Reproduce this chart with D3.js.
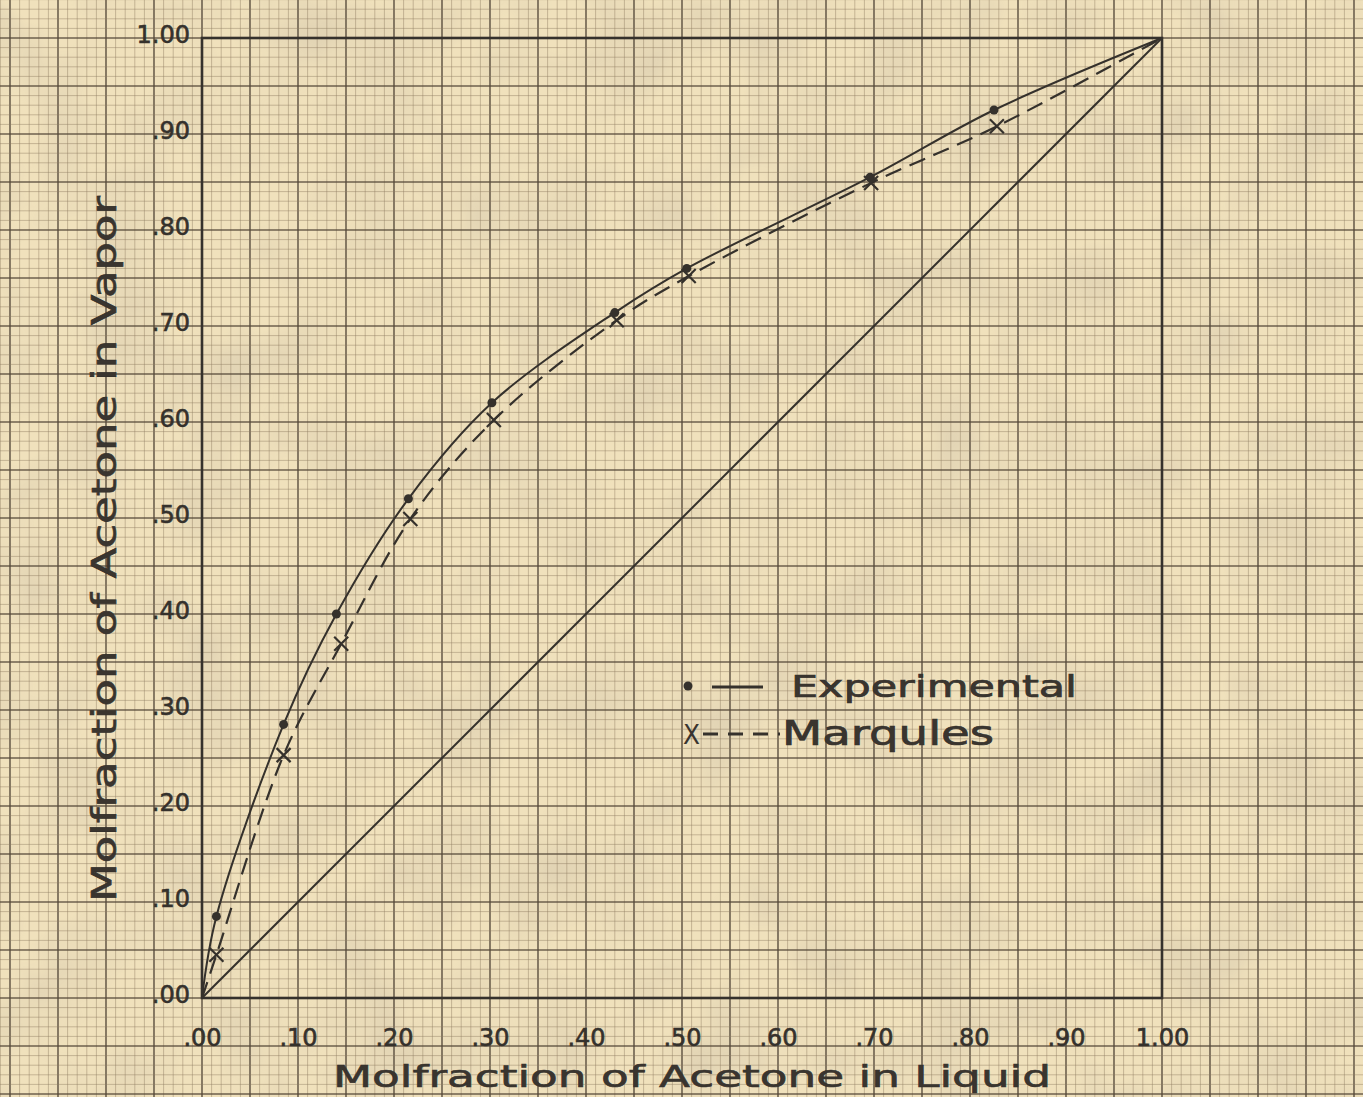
<!DOCTYPE html>
<html>
<head>
<meta charset="utf-8">
<script src="https://cdn.jsdelivr.net/npm/d3@7"></script>
<style>
  html, body { margin: 0; padding: 0; background: #eedfb9; }
  svg { display: block; }
  text { font-family: "DejaVu Sans", sans-serif; fill: #3a352f; }
</style>
</head>
<body>
<script>
// ---- data ----
const tickValues = [0, 0.1, 0.2, 0.3, 0.4, 0.5, 0.6, 0.7, 0.8, 0.9, 1.0];
const xTickLabels = [".00", ".10", ".20", ".30", ".40", ".50", ".60", ".70", ".80", ".90", "1.00"];
const yTickLabels = [".00", ".10", ".20", ".30", ".40", ".50", ".60", ".70", ".80", ".90", "1.00"];

const expLiquid = [0.015, 0.085, 0.140, 0.215, 0.302, 0.430, 0.505, 0.696, 0.825];
const expVapor  = [0.085, 0.285, 0.400, 0.520, 0.620, 0.714, 0.760, 0.855, 0.925];

const marLiquid = [0.015, 0.085, 0.145, 0.217, 0.304, 0.432, 0.507, 0.697, 0.828];
const marVapor  = [0.045, 0.253, 0.369, 0.499, 0.602, 0.706, 0.752, 0.849, 0.908];

const endPoints = [[0, 0], [1, 1]];
const diagonal = [[0, 0], [1, 1]];

const xTitle = "Molfraction of Acetone in Liquid";
const yTitle = "Molfraction of Acetone in Vapor";
const legendLabels = ["Experimental", "Marqules"];

// ---- layout ----
const W = 1363, H = 1097;
const x = d3.scaleLinear().domain([0, 1]).range([202, 1162]);
const y = d3.scaleLinear().domain([0, 1]).range([998, 38]);
const ink = "#35312c";

const svg = d3.select("body").append("svg").attr("width", W).attr("height", H);

// paper texture
const defs = svg.append("defs");
const f = defs.append("filter").attr("id", "paper").attr("x", 0).attr("y", 0).attr("width", "100%").attr("height", "100%");
f.append("feTurbulence").attr("type", "fractalNoise").attr("baseFrequency", 0.012).attr("numOctaves", 3).attr("seed", 7).attr("result", "n");
f.append("feColorMatrix").attr("type", "matrix")
  .attr("values", "0 0 0 0 0.45  0 0 0 0 0.40  0 0 0 0 0.33  0 0 0 -1.6 0.95");

svg.append("rect").attr("width", W).attr("height", H).attr("fill", "#f0e1bc");
svg.append("rect").attr("width", W).attr("height", H).attr("filter", "url(#paper)").attr("opacity", 0.3);

// graph-paper grid across whole sheet
const gx = d3.range(-21, 122).map(k => k / 100);
const gy = d3.range(-11, 105).map(k => k / 100);
const isMid = d => Math.round(d * 100) % 5 === 0;
const grid = svg.append("g");
grid.selectAll("line.vx").data(gx).join("line")
  .attr("x1", d => x(d)).attr("x2", d => x(d)).attr("y1", 0).attr("y2", H)
  .attr("stroke", d => isMid(d) ? "#55493a" : "#8d7d62")
  .attr("stroke-opacity", d => isMid(d) ? 0.85 : 0.45)
  .attr("stroke-width", d => isMid(d) ? 1.6 : 1);
grid.selectAll("line.hy").data(gy).join("line")
  .attr("y1", d => y(d)).attr("y2", d => y(d)).attr("x1", 0).attr("x2", W)
  .attr("stroke", d => isMid(d) ? "#55493a" : "#8d7d62")
  .attr("stroke-opacity", d => isMid(d) ? 0.85 : 0.45)
  .attr("stroke-width", d => isMid(d) ? 1.6 : 1);

// plot frame
svg.append("rect").attr("x", x(0)).attr("y", y(1)).attr("width", x(1) - x(0)).attr("height", y(0) - y(1))
  .attr("fill", "none").attr("stroke", ink).attr("stroke-width", 2.6);

// axes (labels only)
const xAxis = d3.axisBottom(x).tickValues(tickValues).tickFormat((d, i) => xTickLabels[i]).tickSize(0).tickPadding(0);
const gxA = svg.append("g").attr("transform", `translate(0,${y(0) + 48})`).call(xAxis);
gxA.select(".domain").remove();
gxA.selectAll("text").attr("font-size", 24).attr("dy", "0").style("fill", ink)
  .attr("stroke", ink).attr("stroke-width", 0.6);

const yAxis = d3.axisLeft(y).tickValues(tickValues).tickFormat((d, i) => yTickLabels[i]).tickSize(0).tickPadding(0);
const gyA = svg.append("g").attr("transform", `translate(${x(0) - 12},0)`).call(yAxis);
gyA.select(".domain").remove();
gyA.selectAll("text").attr("font-size", 24).attr("dy", "0.2em").style("fill", ink)
  .attr("stroke", ink).attr("stroke-width", 0.6);

// diagonal
const line = d3.line().x(d => x(d[0])).y(d => y(d[1]));
svg.append("path").attr("d", line(diagonal)).attr("fill", "none").attr("stroke", ink).attr("stroke-width", 2);

// curves
const curveLine = d3.line().x(d => x(d[0])).y(d => y(d[1])).curve(d3.curveCatmullRom.alpha(0.5));
const expPts = expLiquid.map((v, i) => [v, expVapor[i]]);
const marPts = marLiquid.map((v, i) => [v, marVapor[i]]);

svg.append("path").attr("d", curveLine([endPoints[0], ...expPts, endPoints[1]]))
  .attr("fill", "none").attr("stroke", ink).attr("stroke-width", 2);
svg.append("path").attr("d", curveLine([endPoints[0], ...marPts, endPoints[1]]))
  .attr("fill", "none").attr("stroke", ink).attr("stroke-width", 2.2).attr("stroke-dasharray", "17,9");

// markers
svg.selectAll("circle.exp").data(expPts).join("circle")
  .attr("cx", d => x(d[0])).attr("cy", d => y(d[1])).attr("r", 4.5).attr("fill", ink);
const s = 7;
const xm = svg.append("g");
marPts.forEach(d => {
  const cx = x(d[0]), cy = y(d[1]);
  xm.append("path").attr("d", `M${cx - s},${cy - s}L${cx + s},${cy + s}M${cx + s},${cy - s}L${cx - s},${cy + s}`)
    .attr("stroke", ink).attr("stroke-width", 2.2).attr("fill", "none");
});

// legend
const lg = svg.append("g");
lg.append("circle").attr("cx", 688).attr("cy", 686).attr("r", 4.5).attr("fill", ink);
lg.append("line").attr("x1", 712).attr("x2", 763).attr("y1", 687).attr("y2", 687).attr("stroke", ink).attr("stroke-width", 3);
lg.append("text").attr("x", 791).attr("y", 697).attr("font-size", 30).attr("stroke", ink).attr("stroke-width", 0.7)
  .attr("textLength", 286).attr("lengthAdjust", "spacingAndGlyphs").text(legendLabels[0]);
lg.append("text").attr("x", 683).attr("y", 744).attr("font-size", 27).attr("textLength", 17).attr("lengthAdjust", "spacingAndGlyphs").text("X");
lg.append("line").attr("x1", 703).attr("x2", 780).attr("y1", 734).attr("y2", 734)
  .attr("stroke", ink).attr("stroke-width", 3).attr("stroke-dasharray", "15,10");
lg.append("text").attr("x", 782).attr("y", 745).attr("font-size", 33).attr("stroke", ink).attr("stroke-width", 0.7)
  .attr("textLength", 212).attr("lengthAdjust", "spacingAndGlyphs").text(legendLabels[1]);

// axis titles
svg.append("text").attr("x", 333).attr("y", 1087).attr("font-size", 31).attr("stroke", ink).attr("stroke-width", 0.6)
  .attr("textLength", 718).attr("lengthAdjust", "spacingAndGlyphs").text(xTitle);
svg.append("text").attr("transform", "translate(116,902) rotate(-90)").attr("font-size", 34).attr("stroke", ink).attr("stroke-width", 0.6)
  .attr("textLength", 706).attr("lengthAdjust", "spacingAndGlyphs").text(yTitle);
</script>
</body>
</html>
